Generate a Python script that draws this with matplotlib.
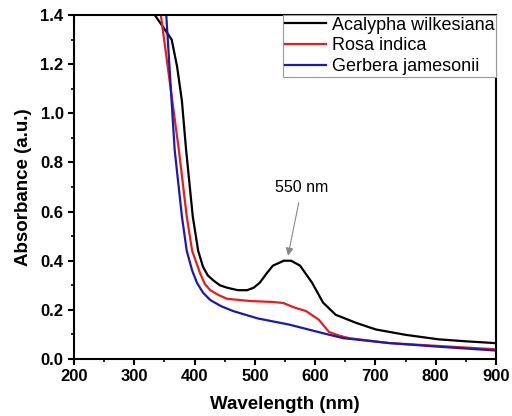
import numpy as np
import matplotlib.pyplot as plt
from matplotlib.ticker import MultipleLocator

plt.rcParams['font.family'] = ['Liberation Sans', 'DejaVu Sans']

# Acalypha wilkesiana
wl_aw = [334, 348, 362, 371, 379, 386, 397, 406, 414, 422, 431, 442, 454, 472, 487, 498,
         508, 520, 530, 548, 560, 575, 595, 613, 634, 668, 701, 751, 805, 850, 897]
ab_aw = [1.40, 1.35, 1.30, 1.19, 1.05, 0.85, 0.58, 0.44, 0.375, 0.34, 0.32, 0.30, 0.29, 0.28,
         0.28, 0.29, 0.31, 0.35, 0.38, 0.40, 0.40, 0.38, 0.31, 0.23, 0.18, 0.147, 0.12, 0.098,
         0.08, 0.072, 0.065]

# Rosa indica
wl_ri = [344, 374, 387, 396, 409, 417, 426, 440, 454, 492, 530, 547, 565, 585,
         606, 623, 640, 656, 722, 805, 896]
ab_ri = [1.40, 0.85, 0.58, 0.44, 0.35, 0.305, 0.28, 0.26, 0.245, 0.236, 0.232, 0.228, 0.21,
         0.195, 0.16, 0.11, 0.095, 0.085, 0.065, 0.053, 0.04]

# Gerbera jamesonii
wl_gj = [353, 367, 379, 387, 396, 404, 414, 426, 444, 464, 505, 557, 613, 646, 722, 805, 897]
ab_gj = [1.40, 0.85, 0.58, 0.44, 0.36, 0.31, 0.27, 0.24, 0.215, 0.195, 0.165, 0.14, 0.105,
         0.085, 0.065, 0.05, 0.035]

fig = plt.figure(figsize=(5.12, 4.16), dpi=100)
ax = fig.add_axes([74 / 512, 1 - 359 / 416, (496 - 74) / 512, (359 - 15) / 416])

ax.plot(wl_aw, ab_aw, color='black', lw=1.6, label='Acalypha wilkesiana')
ax.plot(wl_ri, ab_ri, color='#e02020', lw=1.6, label='Rosa indica')
ax.plot(wl_gj, ab_gj, color='#1a1ab0', lw=1.6, label='Gerbera jamesonii')

ax.annotate('550 nm', xy=(555, 0.42), xytext=(578, 0.70), ha='center', va='center',
            fontsize=11.5,
            arrowprops=dict(arrowstyle='-|>', color='#888888', lw=0.8, shrinkA=4, shrinkB=0))

ax.set_xlim(200, 900)
ax.set_ylim(0, 1.4)
ax.xaxis.set_major_locator(MultipleLocator(100))
ax.xaxis.set_minor_locator(MultipleLocator(50))
ax.yaxis.set_major_locator(MultipleLocator(0.2))
ax.yaxis.set_minor_locator(MultipleLocator(0.1))
ax.tick_params(which='major', direction='out', length=4, width=1.5, labelsize=12)
ax.tick_params(which='minor', direction='out', length=2.5, width=1.2)
for lab in ax.get_xticklabels() + ax.get_yticklabels():
    lab.set_fontweight('bold')
for s in ax.spines.values():
    s.set_linewidth(1.5)

ax.set_xlabel('Wavelength (nm)', fontsize=13.5, fontweight='bold', labelpad=8)
ax.set_ylabel('Absorbance (a.u.)', fontsize=13.5, fontweight='bold', labelpad=6)

leg = ax.legend(loc='upper right', bbox_to_anchor=(1.0, 1.0), borderaxespad=0,
                fontsize=13, fancybox=False, handlelength=2.3, handletextpad=0.3,
                labelspacing=0.2, borderpad=0.1, framealpha=1)
leg.get_frame().set_edgecolor('#999999')
leg.get_frame().set_linewidth(0.8)

fig.savefig('out.png', dpi=100)
